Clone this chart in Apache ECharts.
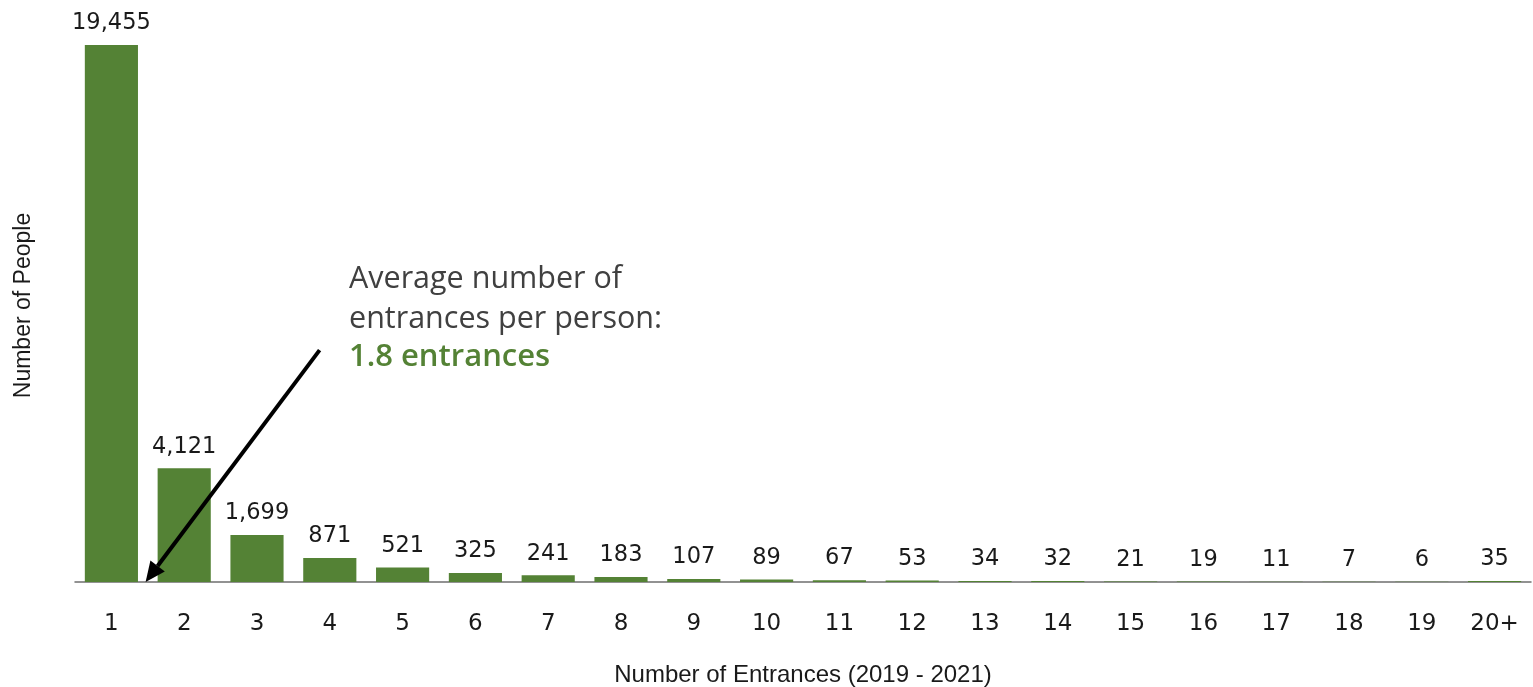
<!DOCTYPE html>
<html>
<head>
<meta charset="utf-8">
<script src="https://cdn.jsdelivr.net/npm/echarts@6/dist/echarts.min.js"></script>
<style>html,body{margin:0;padding:0;background:#fff}#c{width:1533px;height:687px}</style>
</head>
<body>
<div id="c"></div>
<script>
const categories = ['1','2','3','4','5','6','7','8','9','10','11','12','13','14','15','16','17','18','19','20+'];
const people = [19455,4121,1699,871,521,325,241,183,107,89,67,53,34,32,21,19,11,7,6,35];
const xTitle = 'Number of Entrances (2019 - 2021)';
const yTitle = 'Number of People';
const noteLines = ['Average number of', 'entrances per person:'];
const noteHighlight = '1.8 entrances';
// arrow: from (category index, value) to (category index, value)
const arrowFrom = [2.86, 8400];
const arrowTo = [0.47, 0];

const chart = echarts.init(document.getElementById('c'));
const green = '#548235';
chart.setOption({
  animation: false,
  grid: { left: 75, right: 2, top: 45, bottom: 105, containLabel: false, outerBoundsMode: 'none' },
  xAxis: {
    type: 'category', data: categories,
    axisLine: { show: true, lineStyle: { color: '#6f6f6f', width: 1.5 } },
    axisTick: { show: false },
    axisLabel: { color: '#1a1a1a', fontSize: 23, fontFamily: 'DejaVu Sans', margin: 31 },
    name: xTitle, nameLocation: 'middle', nameGap: 81,
    nameTextStyle: { color: '#1a1a1a', fontSize: 24, fontFamily: 'Liberation Sans' }
  },
  yAxis: {
    type: 'value', min: 0, max: 19455,
    axisLine: { show: false }, axisTick: { show: false }, axisLabel: { show: false },
    splitLine: { show: false },
    name: yTitle, nameLocation: 'middle', nameGap: 40, nameRotate: 90,
    nameTextStyle: { color: '#1a1a1a', fontSize: 23, fontFamily: 'Liberation Sans', padding: [0, 0, 0, 16] }
  },
  series: [{
    type: 'bar', data: people, barCategoryGap: '27%',
    itemStyle: { color: green },
    label: {
      show: true, position: 'top', distance: 10, color: '#1a1a1a',
      fontSize: 22.5, fontFamily: 'DejaVu Sans',
      formatter: p => p.value.toLocaleString('en-US')
    }
  }]
});

function px(pt) {
  const a = chart.convertToPixel({ xAxisIndex: 0 }, 0);
  const b = chart.convertToPixel({ xAxisIndex: 0 }, 1);
  const x = a + (b - a) * pt[0];
  const y = chart.convertToPixel({ yAxisIndex: 0 }, pt[1]);
  return [x, y];
}
const p0 = px(arrowFrom), p1 = px(arrowTo);
const ang = Math.atan2(p1[1] - p0[1], p1[0] - p0[0]);
const headLen = 20, headW = 9;
const bx = p1[0] - headLen * Math.cos(ang), by = p1[1] - headLen * Math.sin(ang);
const nx = -Math.sin(ang), ny = Math.cos(ang);
chart.setOption({
  graphic: [
    { type: 'line', z: 100, shape: { x1: p0[0], y1: p0[1], x2: bx, y2: by }, style: { stroke: '#000', lineWidth: 4 } },
    { type: 'polygon', z: 100, shape: { points: [[p1[0], p1[1]], [bx + nx * headW, by + ny * headW], [bx - nx * headW, by - ny * headW]] }, style: { fill: '#000' } },
    { type: 'text', z: 100, x: 349, y: 259, style: { text: noteLines.join('\n'), fill: '#404040', font: '30.5px "Open Sans"', lineHeight: 40 } },
    { type: 'text', z: 100, x: 349, y: 342, style: { text: noteHighlight, fill: green, font: '600 31px "Open Sans"' } }
  ]
});
</script>
</body>
</html>
